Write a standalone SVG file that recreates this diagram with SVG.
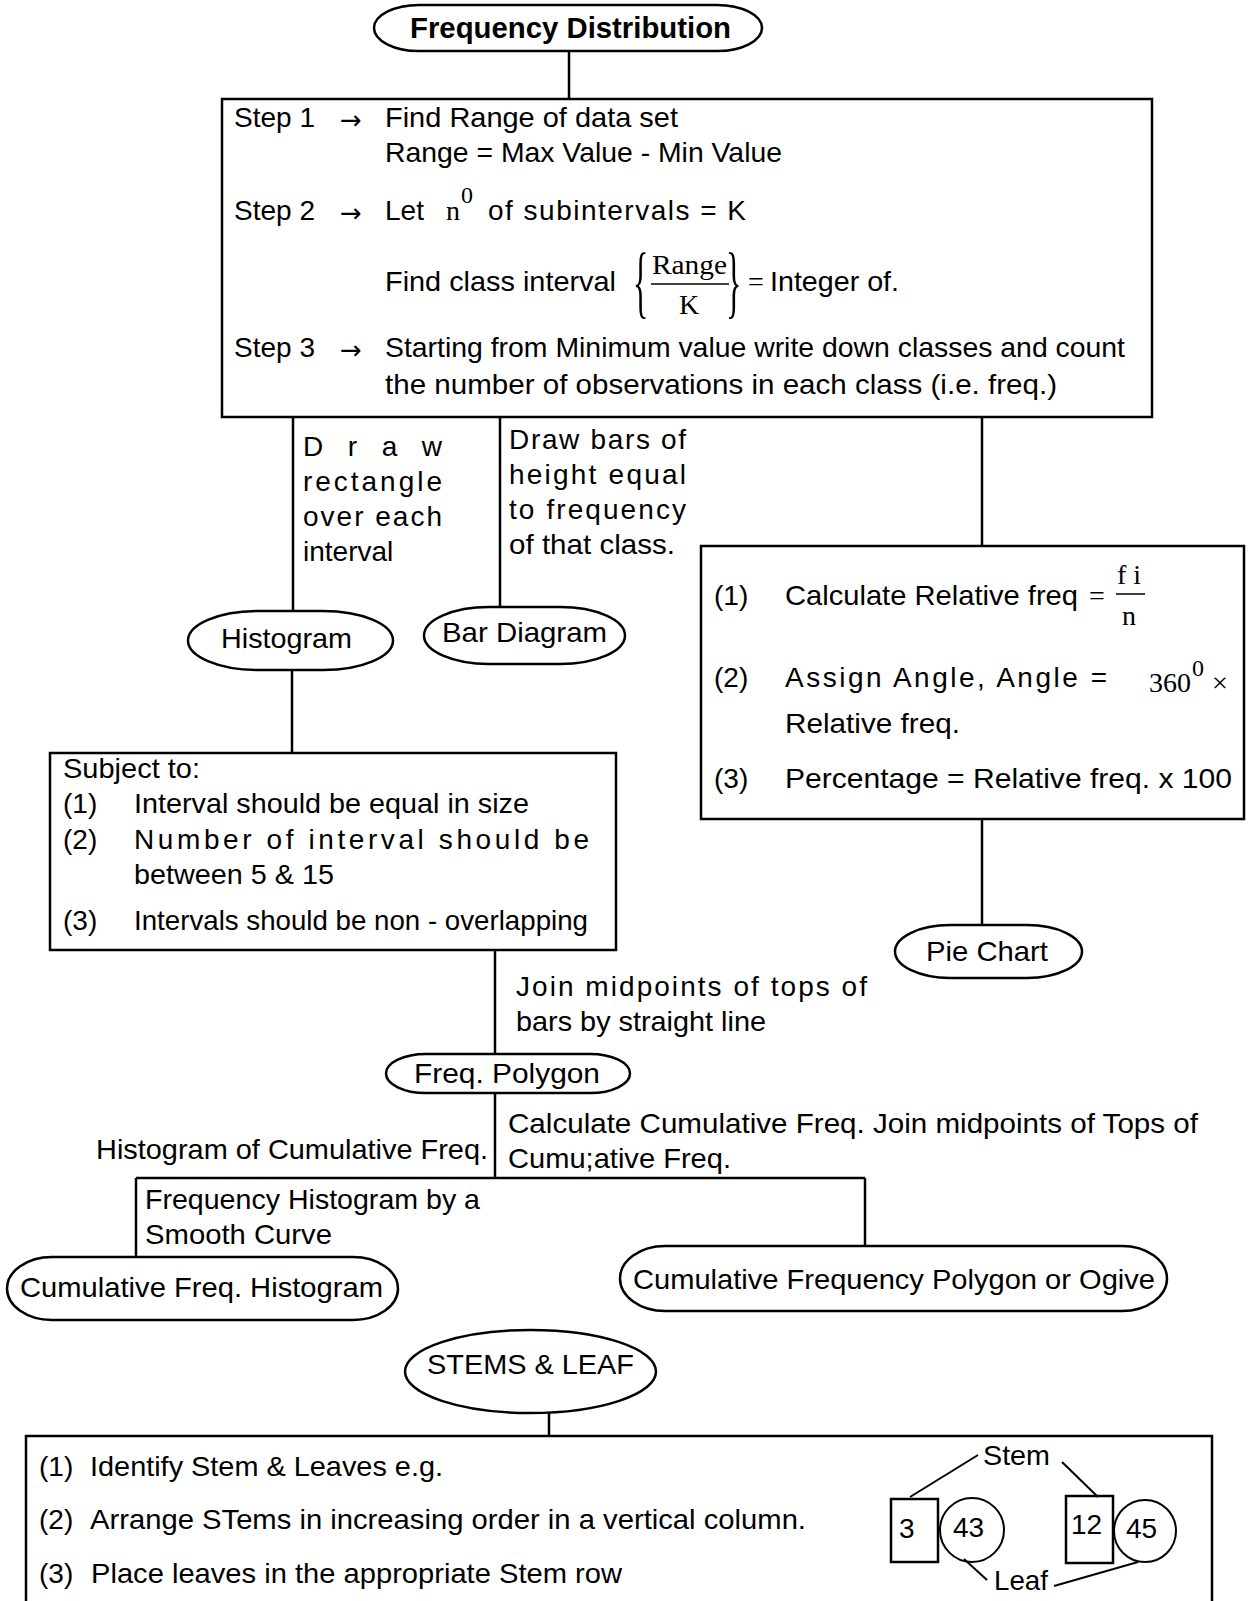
<svg xmlns="http://www.w3.org/2000/svg" width="1249" height="1601" viewBox="0 0 1249 1601">
<style>
.t{font-family:"Liberation Sans",Arial,sans-serif;font-size:28px;fill:#000}
.b{font-family:"Liberation Sans",Arial,sans-serif;font-size:29px;font-weight:bold;fill:#000}
.m{font-family:"Liberation Serif","Times New Roman",serif;font-size:28px;fill:#000}
.sup{font-family:"Liberation Serif","Times New Roman",serif;font-size:24px;fill:#000}
.br{font-family:"Liberation Serif","Times New Roman",serif;font-size:80px;fill:#000}
.ar{font-family:"DejaVu Sans",sans-serif;font-size:26px;fill:#000}
.n{fill:#fff;stroke:#000;stroke-width:2.5}
.c{stroke:#000;stroke-width:2.5;fill:none}
.s{stroke:#000;stroke-width:2;fill:none}
.fl{stroke:#000;stroke-width:1.5;fill:none}
</style>
<rect width="1249" height="1601" fill="#fff"/>
<g id="connectors">
<line class="c" x1="569" y1="51" x2="569" y2="99"/>
<line class="c" x1="293" y1="417" x2="293" y2="611"/>
<line class="c" x1="500" y1="417" x2="500" y2="607"/>
<line class="c" x1="982" y1="417" x2="982" y2="546"/>
<line class="c" x1="982" y1="819" x2="982" y2="925"/>
<line class="c" x1="292" y1="670" x2="292" y2="753"/>
<line class="c" x1="495" y1="950" x2="495" y2="1054"/>
<line class="c" x1="495" y1="1093" x2="495" y2="1178"/>
<line class="c" x1="136" y1="1178" x2="865" y2="1178"/>
<line class="c" x1="136" y1="1178" x2="136" y2="1257"/>
<line class="c" x1="865" y1="1178" x2="865" y2="1246"/>
<line class="c" x1="549" y1="1413" x2="549" y2="1436"/>
</g>
<g id="edge-labels">
<text class="t" x="303" y="456" textLength="139" lengthAdjust="spacing">Draw</text>
<text class="t" x="303" y="491" textLength="139" lengthAdjust="spacing">rectangle</text>
<text class="t" x="303" y="526" textLength="139" lengthAdjust="spacing">over each</text>
<text class="t" x="303" y="561">interval</text>
<text class="t" x="509" y="449" textLength="177" lengthAdjust="spacing">Draw bars of</text>
<text class="t" x="509" y="484" textLength="177" lengthAdjust="spacing">height equal</text>
<text class="t" x="509" y="519" textLength="177" lengthAdjust="spacing">to frequency</text>
<text class="t" x="509" y="554" textLength="166" lengthAdjust="spacingAndGlyphs">of that class.</text>
<text class="t" x="516" y="996" textLength="351" lengthAdjust="spacing">Join midpoints of tops of</text>
<text class="t" x="516" y="1031" textLength="250" lengthAdjust="spacingAndGlyphs">bars by straight line</text>
<text class="t" x="508" y="1133" textLength="690" lengthAdjust="spacingAndGlyphs">Calculate Cumulative Freq. Join midpoints of Tops of</text>
<text class="t" x="508" y="1168" textLength="223" lengthAdjust="spacingAndGlyphs">Cumu;ative Freq.</text>
<text class="t" x="96" y="1159" textLength="392" lengthAdjust="spacingAndGlyphs">Histogram of Cumulative Freq.</text>
<text class="t" x="145" y="1209" textLength="335" lengthAdjust="spacingAndGlyphs">Frequency Histogram by a</text>
<text class="t" x="145" y="1244" textLength="187" lengthAdjust="spacingAndGlyphs">Smooth Curve</text>
</g>
<g id="node-freq-dist">
<rect class="n" x="374" y="5" width="388" height="46" rx="45" ry="23"/>
<text class="b" x="410" y="38" textLength="321" lengthAdjust="spacingAndGlyphs">Frequency Distribution</text>
</g>
<g id="node-steps">
<rect class="n" x="222" y="99" width="930" height="318"/>
<text class="t" x="234" y="127">Step 1</text><text class="ar" x="340" y="129">→</text>
<text class="t" x="385" y="127" textLength="293" lengthAdjust="spacingAndGlyphs">Find Range of data set</text>
<text class="t" x="385" y="162" textLength="397" lengthAdjust="spacingAndGlyphs">Range = Max Value - Min Value</text>
<text class="t" x="234" y="220">Step 2</text><text class="ar" x="340" y="222">→</text>
<text class="t" x="385" y="220">Let</text>
<text class="m" x="446" y="220">n</text><text class="sup" x="461" y="203">0</text>
<text class="t" x="488" y="220" textLength="258" lengthAdjust="spacing">of subintervals  =  K</text>
<text class="t" x="385" y="291" textLength="231" lengthAdjust="spacingAndGlyphs">Find class interval</text>
<text class="br" transform="translate(633,308) scale(0.4,1)">{</text>
<text class="m" x="652" y="274" textLength="75" lengthAdjust="spacingAndGlyphs">Range</text>
<line class="fl" x1="651" y1="284" x2="729" y2="284"/>
<text class="m" x="679" y="314">K</text>
<text class="br" transform="translate(726,308) scale(0.4,1)">}</text>
<text class="m" x="748" y="291">=</text>
<text class="t" x="770" y="291" textLength="129" lengthAdjust="spacingAndGlyphs">Integer of.</text>
<text class="t" x="234" y="357">Step 3</text><text class="ar" x="340" y="359">→</text>
<text class="t" x="385" y="357" textLength="740" lengthAdjust="spacingAndGlyphs">Starting from Minimum value write down classes and count</text>
<text class="t" x="385" y="394" textLength="672" lengthAdjust="spacingAndGlyphs">the number of observations in each class (i.e.  freq.)</text>
</g>
<g id="node-histogram">
<rect class="n" x="188" y="611" width="205" height="59" rx="70" ry="29.5"/>
<text class="t" x="221" y="648" textLength="131" lengthAdjust="spacingAndGlyphs">Histogram</text>
</g>
<g id="node-bar">
<rect class="n" x="424" y="607" width="201" height="57" rx="65" ry="28.5"/>
<text class="t" x="442" y="642" textLength="165" lengthAdjust="spacingAndGlyphs">Bar Diagram</text>
</g>
<g id="node-pie-steps">
<rect class="n" x="701" y="546" width="543" height="273"/>
<text class="t" x="714" y="605">(1)</text>
<text class="t" x="785" y="605" textLength="293" lengthAdjust="spacingAndGlyphs">Calculate Relative freq</text>
<text class="m" x="1089" y="605">=</text>
<text class="m" x="1117" y="584">f i</text>
<line class="fl" x1="1116" y1="594" x2="1145" y2="594"/>
<text class="m" x="1122" y="625">n</text>
<text class="t" x="714" y="687">(2)</text>
<text class="t" x="785" y="687" textLength="322" lengthAdjust="spacing">Assign  Angle,   Angle   =</text>
<text class="m" x="1149" y="692">360</text><text class="sup" x="1192" y="676">0</text>
<text class="m" x="1212" y="692">×</text>
<text class="t" x="785" y="733" textLength="175" lengthAdjust="spacingAndGlyphs">Relative freq.</text>
<text class="t" x="714" y="788">(3)</text>
<text class="t" x="785" y="788" textLength="447" lengthAdjust="spacingAndGlyphs">Percentage = Relative freq.  x  100</text>
</g>
<g id="node-pie">
<rect class="n" x="895" y="925" width="187" height="53" rx="55" ry="26.5"/>
<text class="t" x="926" y="961" textLength="122" lengthAdjust="spacingAndGlyphs">Pie Chart</text>
</g>
<g id="node-subject">
<rect class="n" x="50" y="753" width="566" height="197"/>
<text class="t" x="63" y="778" textLength="137" lengthAdjust="spacingAndGlyphs">Subject to:</text>
<text class="t" x="63" y="813">(1)</text>
<text class="t" x="134" y="813" textLength="395" lengthAdjust="spacingAndGlyphs">Interval should be equal in size</text>
<text class="t" x="63" y="849">(2)</text>
<text class="t" x="134" y="849" textLength="455" lengthAdjust="spacing">Number of interval should be</text>
<text class="t" x="134" y="884" textLength="200" lengthAdjust="spacingAndGlyphs">between 5 &amp; 15</text>
<text class="t" x="63" y="930">(3)</text>
<text class="t" x="134" y="930" textLength="454" lengthAdjust="spacingAndGlyphs">Intervals should be non - overlapping</text>
</g>
<g id="node-freq-polygon">
<rect class="n" x="386" y="1054" width="244" height="39" rx="40" ry="19.5"/>
<text class="t" x="414" y="1083" textLength="186" lengthAdjust="spacingAndGlyphs">Freq.  Polygon</text>
</g>
<g id="node-cum-hist">
<rect class="n" x="7" y="1257" width="391" height="63" rx="45" ry="31.5"/>
<text class="t" x="20" y="1297" textLength="363" lengthAdjust="spacingAndGlyphs">Cumulative Freq. Histogram</text>
</g>
<g id="node-ogive">
<rect class="n" x="620" y="1246" width="547" height="65" rx="45" ry="32.5"/>
<text class="t" x="633" y="1289" textLength="522" lengthAdjust="spacingAndGlyphs">Cumulative Frequency Polygon or Ogive</text>
</g>
<g id="node-stems">
<ellipse class="n" cx="530.5" cy="1371.5" rx="125.5" ry="41.5"/>
<text class="t" x="427" y="1374" textLength="207" lengthAdjust="spacingAndGlyphs">STEMS &amp; LEAF</text>
</g>
<g id="node-stem-steps">
<rect class="n" x="26" y="1436" width="1186" height="200"/>
<text class="t" x="39" y="1476">(1)</text>
<text class="t" x="90" y="1476" textLength="353" lengthAdjust="spacingAndGlyphs">Identify Stem &amp; Leaves e.g.</text>
<text class="t" x="39" y="1529">(2)</text>
<text class="t" x="90" y="1529" textLength="716" lengthAdjust="spacingAndGlyphs">Arrange STems in increasing order in a vertical column.</text>
<text class="t" x="39" y="1583">(3)</text>
<text class="t" x="91" y="1583" textLength="531" lengthAdjust="spacingAndGlyphs">Place leaves in the appropriate Stem row</text>
<text class="t" x="983" y="1465" textLength="67" lengthAdjust="spacingAndGlyphs">Stem</text>
<line class="s" x1="978" y1="1455" x2="910" y2="1497"/>
<line class="s" x1="1062" y1="1462" x2="1098" y2="1497"/>
<rect class="c" x="891" y="1499" width="47" height="63"/>
<text class="t" x="899" y="1538">3</text>
<circle class="s" cx="972" cy="1530" r="32"/>
<text class="t" x="953" y="1537">43</text>
<rect class="c" x="1066" y="1496" width="47" height="67"/>
<text class="t" x="1071" y="1534">12</text>
<circle class="s" cx="1145" cy="1531" r="31"/>
<text class="t" x="1126" y="1538">45</text>
<text class="t" x="994" y="1590" textLength="54" lengthAdjust="spacingAndGlyphs">Leaf</text>
<line class="s" x1="964" y1="1559" x2="987" y2="1580"/>
<line class="s" x1="1138" y1="1562" x2="1054" y2="1586"/>
</g>
</svg>
